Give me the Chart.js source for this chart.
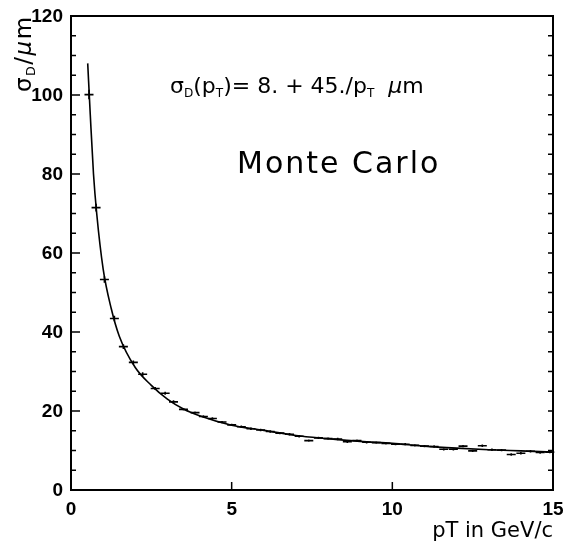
<!DOCTYPE html>
<html>
<head>
<meta charset="utf-8">
<script src="https://cdn.jsdelivr.net/npm/chart.js@4.4.1/dist/chart.umd.min.js"></script>
<style>
    html, body { margin: 0; padding: 0; background: #ffffff; }
    #wrap { width: 577px; height: 541px; position: relative; }
</style>
</head>
<body>
<div id="wrap"><canvas id="sigmaChart"></canvas></div>
<script>
// Tick labels
const xTicks = [0, 5, 10, 15];
const yTicks = [0, 20, 40, 60, 80, 100, 120];
const yMinorStep = 5;

// Fitted curve
const fitPt  = [0.52, 0.6, 0.7, 0.8, 1.0, 1.25, 1.5, 2.0, 2.5, 3.0, 3.5, 4.0, 5.0, 6.0, 7.0, 8.0, 9.0, 10.0, 11.0, 12.0, 13.0, 14.0, 15.0];
const fitVal = [108, 95, 80, 70, 56, 46, 39, 31, 26.5, 23, 20.5, 18.8, 16.4, 15.1, 13.8, 13.0, 12.3, 11.8, 11.1, 10.6, 10.2, 9.9, 9.6];

// Monte Carlo points (bin centre, value, error)
const pT = [0.56, 0.78, 1.04, 1.35, 1.63, 1.94, 2.23, 2.62, 2.93, 3.19, 3.5, 3.86, 4.12,
            4.4, 4.7, 5.0, 5.3, 5.6, 5.9, 6.2, 6.5, 6.8, 7.1, 7.4, 7.7, 8.0, 8.3, 8.6, 8.9,
            9.2, 9.5, 9.8, 10.1, 10.4, 10.7, 11.0, 11.3, 11.6, 11.9, 12.2, 12.5, 12.8, 13.1,
            13.4, 13.7, 14.0, 14.3, 14.6, 14.9];
const sigma = [100.1, 71.5, 53.3, 43.4, 36.3, 32.3, 29.3, 25.7, 24.5, 22.3, 20.4, 19.6, 18.6,
               18.1, 17.2, 16.5, 16.0, 15.5, 15.2, 14.8, 14.4, 14.1, 13.6, 12.5, 13.2, 13.0, 12.9, 12.2, 12.5,
               12.1, 12.0, 11.8, 11.6, 11.6, 11.3, 11.1, 11.0, 10.3, 10.3, 11.1, 9.9, 11.2, 10.2,
               10.1, 9.0, 9.3, 9.8, 9.5, 9.6];
const sigmaErr = [1.2, 1.0, 0.8, 0.7, 0.6, 0.5, 0.5, 0.4, 0.4, 0.4, 0.3, 0.3, 0.3,
                  0.3, 0.3, 0.3, 0.3, 0.3, 0.3, 0.3, 0.3, 0.3, 0.3, 0.3, 0.3, 0.3, 0.3, 0.3, 0.3,
                  0.3, 0.3, 0.3, 0.3, 0.3, 0.3, 0.3, 0.3, 0.3, 0.3, 0.3, 0.3, 0.3, 0.3,
                  0.3, 0.3, 0.3, 0.3, 0.3, 0.3];
const binHalfWidth = 0.14;

const tickFont = "bold 19px 'Liberation Sans', Arial, sans-serif";
const textFamily = "'DejaVu Sans', sans-serif";

// Draws runs of text; sub runs are smaller and lowered
function drawRuns(ctx, x, y, runs, size) {
    runs.forEach(r => {
        const s = r.sub ? size * 0.55 : size;
        ctx.font = (r.italic ? 'italic ' : '') + s + 'px ' + textFamily;
        ctx.fillText(r.t, x, y + (r.sub ? size * 0.18 : 0));
        x += ctx.measureText(r.t).width;
    });
}

const framePlugin = {
    id: 'framePlugin',
    afterDatasetsDraw(chart) {
        const ctx = chart.ctx;
        const xs = chart.scales.x, ys = chart.scales.y;
        const a = chart.chartArea;
        ctx.save();
        ctx.strokeStyle = '#000';
        ctx.fillStyle = '#000';

        // error bars
        ctx.lineWidth = 1.6;
        pT.forEach((p, i) => {
            const yc = ys.getPixelForValue(sigma[i]);
            ctx.beginPath();
            ctx.moveTo(xs.getPixelForValue(p - binHalfWidth), yc);
            ctx.lineTo(xs.getPixelForValue(p + binHalfWidth), yc);
            const xc = xs.getPixelForValue(p);
            ctx.moveTo(xc, ys.getPixelForValue(sigma[i] - sigmaErr[i]));
            ctx.lineTo(xc, ys.getPixelForValue(sigma[i] + sigmaErr[i]));
            ctx.stroke();
        });

        // frame
        ctx.lineWidth = 2;
        ctx.strokeRect(a.left, a.top, a.right - a.left, a.bottom - a.top);

        // y ticks (left major + minor, right minor)
        ctx.lineWidth = 1.5;
        for (let v = ys.min; v <= ys.max; v += yMinorStep) {
            const yp = ys.getPixelForValue(v);
            const len = yTicks.includes(v) ? 9 : 5;
            ctx.beginPath();
            ctx.moveTo(a.left, yp); ctx.lineTo(a.left + len, yp);
            ctx.moveTo(a.right, yp); ctx.lineTo(a.right - 5, yp);
            ctx.stroke();
        }
        // x ticks
        xTicks.forEach(v => {
            const xp = xs.getPixelForValue(v);
            ctx.beginPath();
            ctx.moveTo(xp, a.bottom); ctx.lineTo(xp, a.bottom - 8);
            ctx.stroke();
        });

        // tick labels
        ctx.font = tickFont;
        ctx.textAlign = 'right';
        ctx.textBaseline = 'middle';
        yTicks.forEach(v => ctx.fillText(String(v), a.left - 8, ys.getPixelForValue(v) + 1));
        ctx.textAlign = 'center';
        ctx.textBaseline = 'top';
        xTicks.forEach(v => ctx.fillText(String(v), xs.getPixelForValue(v), a.bottom + 10));

        // axis titles
        ctx.textAlign = 'left';
        ctx.textBaseline = 'alphabetic';
        ctx.font = '21px ' + textFamily;
        const xt = 'pT in GeV/c';
        ctx.fillText(xt, a.right - ctx.measureText(xt).width, 537);

        ctx.save();
        ctx.translate(31, 92);
        ctx.rotate(-Math.PI / 2);
        ctx.letterSpacing = '1.5px';
        drawRuns(ctx, 0, 0, [
            { t: 'σ' }, { t: 'D', sub: true }, { t: '/' }, { t: 'μ', italic: true }, { t: 'm' }
        ], 23);
        ctx.letterSpacing = '0px';
        ctx.restore();

        // formula
        drawRuns(ctx, 170, 93, [
            { t: 'σ' }, { t: 'D', sub: true }, { t: '(p' }, { t: 'T', sub: true },
            { t: ')= 8. + 45./p' }, { t: 'T', sub: true }, { t: '  ' },
            { t: 'μ', italic: true }, { t: 'm' }
        ], 22);

        // Monte Carlo label
        ctx.font = '30px ' + textFamily;
        ctx.letterSpacing = '2px';
        ctx.fillText('Monte Carlo', 237, 173);
        ctx.letterSpacing = '0px';

        ctx.restore();
    }
};

const ctx = document.getElementById('sigmaChart').getContext('2d');
const sigmaChart = new Chart(ctx, {
    type: 'scatter',
    data: {
        datasets: [{
            label: 'fit',
            data: fitPt.map((p, i) => ({ x: p, y: fitVal[i] })),
            showLine: true,
            borderColor: '#000000',
            borderWidth: 1.6,
            pointRadius: 0,
            cubicInterpolationMode: 'monotone'
        }, {
            label: 'Monte Carlo',
            data: pT.map((p, i) => ({ x: p, y: sigma[i] })),
            pointRadius: 0
        }]
    },
    options: {
        responsive: true,
        maintainAspectRatio: false,
        animation: false,
        layout: {
            padding: { left: 71, right: 24, top: 16, bottom: 51 }
        },
        plugins: {
            legend: { display: false },
            tooltip: { enabled: false }
        },
        scales: {
            x: { type: 'linear', min: 0, max: 15, display: false },
            y: { type: 'linear', min: 0, max: 120, display: false }
        }
    },
    plugins: [framePlugin]
});
</script>
</body>
</html>
